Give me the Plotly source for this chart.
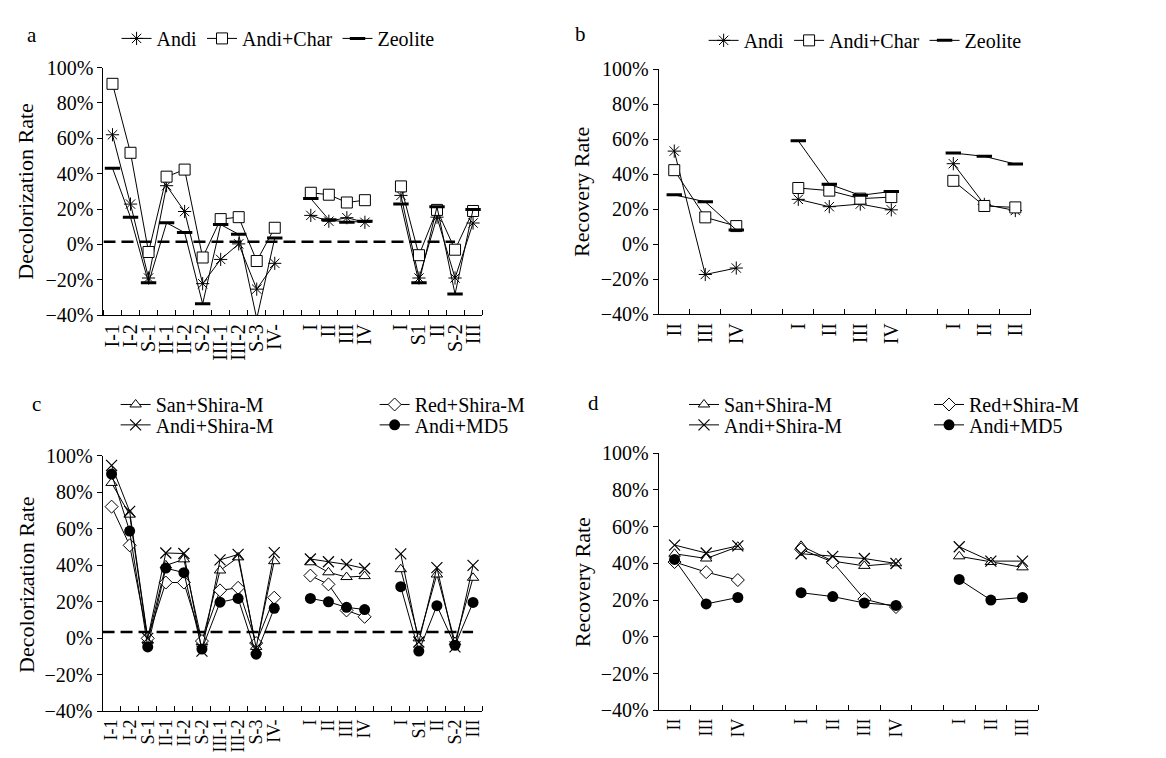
import plotly.graph_objects as go

# ---------------- data ----------------
# panels a & c : decolorization rate (%)
groups_ac = [["I-1", "I-2", "S-1", "II-1", "II-2", "S-2", "III-1", "III-2", "S-3", "IV-"],
             ["I", "II", "III", "IV"],
             ["I", "S1", "II", "S-2", "III"]]
# panel b and d : recovery rate (%)
groups_b = [["II", "III", "IV"], ["I", "II", "III", "IV"], ["I", "II", "II"]]
groups_d = [["II", "III", "IV"], ["I", "II", "III", "IV"], ["I", "II", "III"]]

andi_a = [62, 22.8, -19, 33.2, 18.6, -22.2, -8.5, 0.3, -25.3, -10.7,
          16.4, 13.1, 15.1, 12.5,
          27.7, -19, 15.4, -19, 12.1]
char_a = [90.8, 51.8, -4.3, 38.3, 42.3, -7.4, 14.3, 15.4, -9.4, 9.4,
          29.2, 28.1, 23.7, 25,
          32.8, -6.1, 19.5, -3, 18.9]
zeo_a = [43.1, 15.3, -21.7, 12.2, 6.7, -33.6, 11.2, 5.7, -42, 3.6,
         25.9, 14, 12.5, 13.1,
         22.8, -21.7, 21.3, -28.1, 19.8]
baseline_a = 1.5

andi_b = [53.3, -17.3, -13.6, 25.7, 21.5, 23, 19.7, 46.1, 22.8, 19.3]
char_b = [42.4, 15.4, 10.4, 32.2, 30.7, 26.1, 27, 36.3, 21.9, 21.1]
zeo_b = [28.3, 24.3, 8.2, 59.2, 34.4, 28, 30.2, 52.2, 50.3, 45.9]

san_c = [85.2, 67.8, -1, 40, 43.3, -2, 37.2, 44.4, -4.7, 42.3,
         41.7, 36.2, 33.6, 34.1,
         37.9, 0, 35, -2, 33.2]
red_c = [72.2, 51, 0, 30.6, 30.6, -1.5, 26.3, 27.7, -2.6, 22.3,
         34.4, 29.6, 15.3, 11.8,
         None, None, None, None, None]
ashira_c = [94.8, 69.6, 0, 46.8, 46.5, -7, 43, 46, -5.2, 47,
            43.5, 42, 40.5, 38.3,
            46.3, -2, 38.8, -4.7, 40]
md5_c = [90.1, 58.8, -4.7, 38.5, 36, -5.9, 19.8, 21.9, -8.7, 16.5,
         21.9, 20, 17, 15.8,
         28.3, -7, 17.9, -3.8, 19.7]
baseline_c = 3.5

san_d = [45.2, 42.6, 49, 49.5, 41.2, 38.6, 40, 43.8, 40.7, 37.8]
red_d = [40.7, 35.2, 30.9, 47.6, 40.7, 20.5, 16.2, None, None, None]
ashira_d = [49.9, 45.6, 49.5, 45.2, 43.8, 42.6, 39.9, 49, 41.2, 41.2]
md5_d = [42.1, 17.9, 21.4, 24, 21.9, 18.4, 17.1, 31.2, 20, 21.4]

y_ticks = [-40, -20, 0, 20, 40, 60, 80, 100]
y_ticktext = ["\u221240%", "\u221220%", "0%", "20%", "40%", "60%", "80%", "100%"]

# ---------------- helpers ----------------
W, H = 1166, 758
FONT = "Liberation Serif"


def layout_slots(groups):
    pos, labels, sizes = [], [], []
    i = 0
    for g in groups:
        sizes.append(len(g))
        for lab in g:
            pos.append(i)
            labels.append(lab)
            i += 1
        i += 1
    return pos, labels, i - 1, sizes


def split_series(pos, vals, sizes):
    xs, ys = [], []
    k = 0
    for n in sizes:
        xs += pos[k:k + n] + [None]
        ys += vals[k:k + n] + [None]
        k += n
    return xs, ys


fig = go.Figure()

# domains in pixels (left, right, top, bottom)
dom = {
    "a": (100, 505, 50, 305),
    "b": (694, 1092, 52, 304),
    "c": (99, 505, 450, 713),
    "d": (694, 1100, 447, 712),
}
axn = {"a": ("x", "y"), "b": ("x2", "y2"), "c": ("x3", "y3"), "d": ("x4", "y4")}
xfont = {"a": 20, "b": 20, "c": 18, "d": 18}

ast = dict(symbol="asterisk-open", size=11, color="black", line=dict(width=1, color="black"))
sq = dict(symbol="square", size=11, color="white", line=dict(width=1, color="black"))
zeo = dict(symbol="line-ew", size=11, color="black", line=dict(width=3, color="black"))
tri = dict(symbol="triangle-up", size=10, color="white", line=dict(width=1, color="black"))
dia = dict(symbol="diamond", size=10, color="white", line=dict(width=1, color="black"))
xm = dict(symbol="x-thin-open", size=11, color="black", line=dict(width=1.2, color="black"))
dot = dict(symbol="circle", size=11, color="black", line=dict(width=0, color="black"))

LINE = dict(color="black", width=1)


def add_series(panel, groups, vals, name, marker, legend, show=True):
    pos, labels, n, sizes = layout_slots(groups)
    xs, ys = split_series(pos, vals, sizes)
    xa, ya = axn[panel]
    fig.add_trace(go.Scatter(x=xs, y=ys, mode="lines+markers", name=name,
                             line=LINE, marker=marker, connectgaps=False,
                             xaxis=xa, yaxis=ya, legend=legend, showlegend=show))


add_series("a", groups_ac, andi_a, "Andi", ast, "legend")
add_series("a", groups_ac, char_a, "Andi+Char", sq, "legend")
add_series("a", groups_ac, zeo_a, "Zeolite", zeo, "legend")

add_series("b", groups_b, andi_b, "Andi", ast, "legend2")
add_series("b", groups_b, char_b, "Andi+Char", sq, "legend2")
add_series("b", groups_b, zeo_b, "Zeolite", zeo, "legend2")

add_series("c", groups_ac, san_c, "San+Shira-M", tri, "legend3")
add_series("c", groups_ac, red_c, "Red+Shira-M", dia, "legend3")
add_series("c", groups_ac, ashira_c, "Andi+Shira-M", xm, "legend4")
add_series("c", groups_ac, md5_c, "Andi+MD5", dot, "legend4")

add_series("d", groups_d, san_d, "San+Shira-M", tri, "legend5")
add_series("d", groups_d, red_d, "Red+Shira-M", dia, "legend5")
add_series("d", groups_d, ashira_d, "Andi+Shira-M", xm, "legend6")
add_series("d", groups_d, md5_d, "Andi+MD5", dot, "legend6")

# dashed reference lines
for panel, groups, base, last in (("a", groups_ac, baseline_a, -2), ("c", groups_ac, baseline_c, -1)):
    pos, labels, n, sizes = layout_slots(groups)
    xa, ya = axn[panel]
    fig.add_trace(go.Scatter(x=[-0.5, pos[last]], y=[base, base], mode="lines",
                             line=dict(color="black", width=2.5, dash="12px,6px"),
                             xaxis=xa, yaxis=ya, showlegend=False, hoverinfo="skip"))

# axes
for panel, groups in (("a", groups_ac), ("b", groups_b), ("c", groups_ac), ("d", groups_d)):
    pos, labels, n, sizes = layout_slots(groups)
    l, r, t, b = dom[panel]
    xa, ya = axn[panel]
    xkey = "xaxis" + xa[1:]
    ykey = "yaxis" + ya[1:]
    fig.update_layout(**{
        xkey: dict(domain=[l / W, r / W], anchor=ya, range=[-0.5, n - 0.5],
                   tickmode="array", tickvals=pos, ticktext=labels, tickangle=-90,
                   ticks="", showline=True, linecolor="black", linewidth=1,
                   showgrid=False, zeroline=False,
                   tickfont=dict(family=FONT, size=xfont[panel], color="black"),
                   minor=dict(tickmode="array", tickvals=[k - 0.5 for k in range(n + 1)],
                              ticks="inside", ticklen=5, tickcolor="black", tickwidth=1,
                              showgrid=False)),
        ykey: dict(domain=[1 - b / H, 1 - t / H], anchor=xa, range=[-40, 100],
                   tickmode="array", tickvals=y_ticks, ticktext=y_ticktext,
                   ticks="outside", ticklen=5, tickcolor="black",
                   showline=True, linecolor="black", linewidth=1,
                   showgrid=False, zeroline=False,
                   tickfont=dict(family=FONT, size=20, color="black")),
    })

# legends
leg_common = dict(orientation="h", font=dict(family=FONT, size=20, color="black"),
                  bgcolor="rgba(0,0,0,0)", xanchor="left", yanchor="middle",
                  itemwidth=30, tracegroupgap=0)
fig.update_layout(
    legend=dict(x=114 / W, y=1 - 20 / H, **leg_common),
    legend2=dict(x=742 / W, y=1 - 22 / H, **leg_common),
    legend3=dict(x=113 / W, y=1 - 397 / H, entrywidth=214, **leg_common),
    legend4=dict(x=113 / W, y=1 - 418 / H, entrywidth=214, **leg_common),
    legend5=dict(x=721 / W, y=1 - 397 / H, entrywidth=200, **leg_common),
    legend6=dict(x=721 / W, y=1 - 418 / H, entrywidth=200, **leg_common),
)

# panel letters and y-axis titles
ann = []
for letter, (px, py) in (("a", (23, 16)), ("b", (610, 15)), ("c", (28, 397)), ("d", (624, 395))):
    ann.append(dict(text=letter, x=px / W, y=1 - py / H, xref="paper", yref="paper",
                    showarrow=False, xanchor="center", yanchor="middle",
                    font=dict(family=FONT, size=21, color="black")))
for title, (px, py) in (("Decolorization Rate", (17, 177)), ("Recovery Rate", (612, 178)),
                        ("Decolorization Rate", (17, 582)), ("Recovery Rate", (612, 580))):
    ann.append(dict(text=title, x=px / W, y=1 - py / H, xref="paper", yref="paper",
                    showarrow=False, textangle=-90, xanchor="center", yanchor="middle",
                    font=dict(family=FONT, size=22, color="black")))

fig.update_layout(width=W, height=H, margin=dict(l=0, r=0, t=0, b=0),
                  paper_bgcolor="white", plot_bgcolor="white",
                  font=dict(family=FONT, color="black"),
                  annotations=ann, hovermode=False)

fig.write_html("out.html")
